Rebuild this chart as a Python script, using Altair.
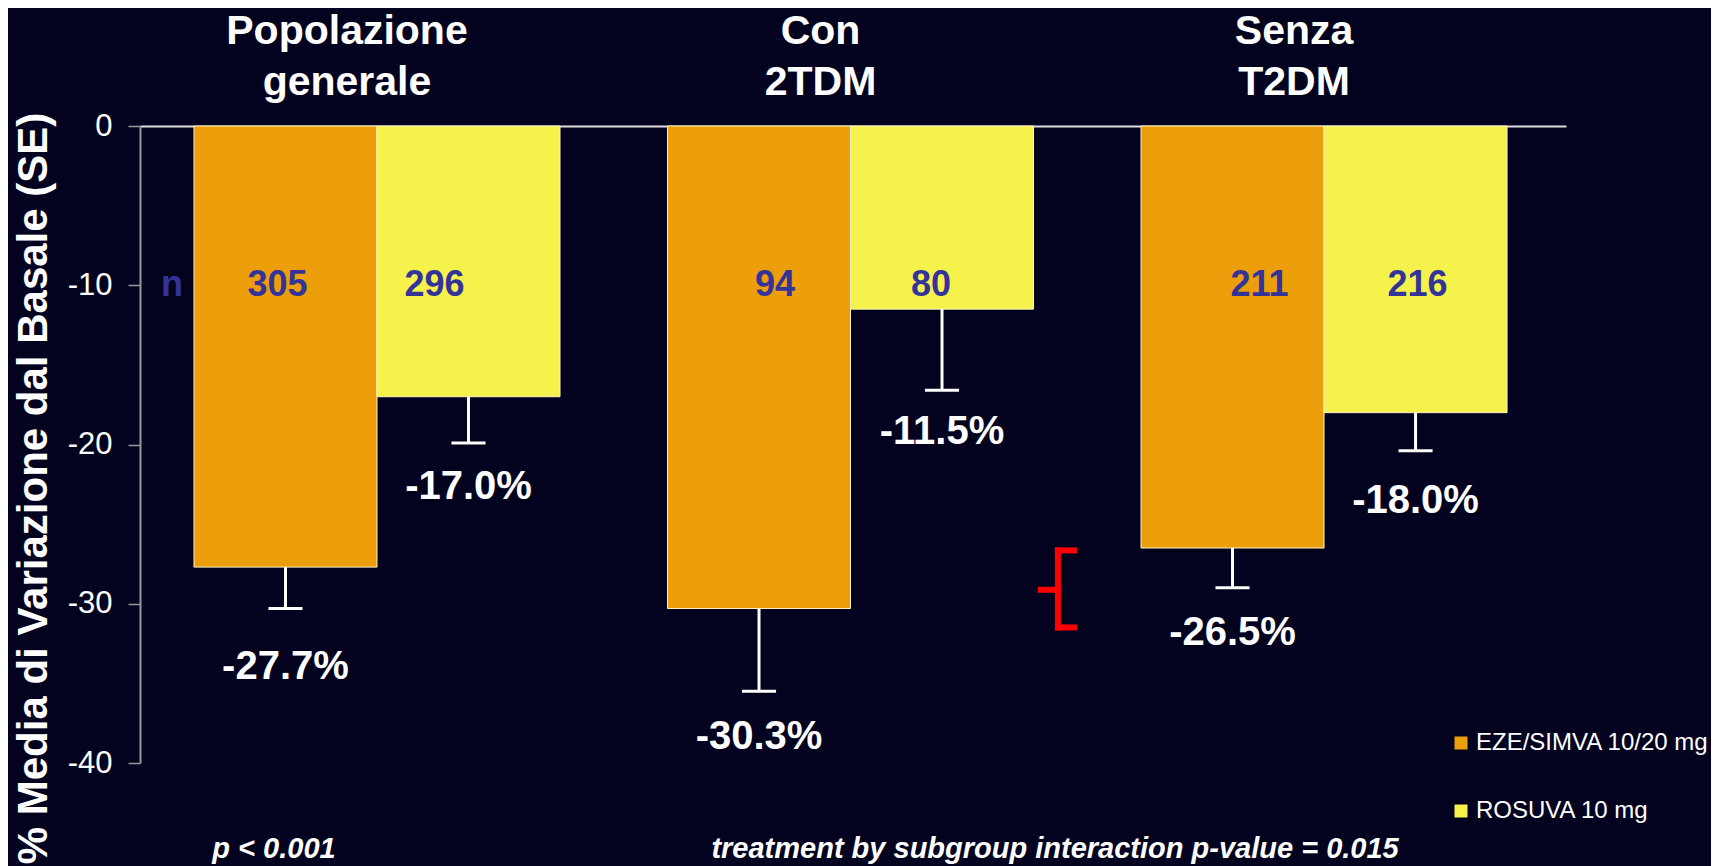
import altair as alt
import pandas as pd

# ---------------- data ----------------
groups = ["Popolazione generale", "Con 2TDM", "Senza T2DM"]
title_line1 = ["Popolazione", "Con", "Senza"]
title_line2 = ["generale", "2TDM", "T2DM"]
series = ["EZE/SIMVA 10/20 mg", "ROSUVA 10 mg"]
eze_values = [-27.7, -30.3, -26.5]
rosuva_values = [-17.0, -11.5, -18.0]
eze_se_end = [-30.3, -35.5, -29.0]
rosuva_se_end = [-19.9, -16.6, -20.4]
eze_n = [305, 94, 211]
rosuva_n = [296, 80, 216]
y_ticks = [0, -10, -20, -30, -40]
notes = ["p < 0.001", "treatment by subgroup interaction  p-value = 0.015"]

# ---------------- layout / style ----------------
ORANGE = "#EC9E0B"
YELLOW = "#F5F34B"
BG = "#030320"
NCOL = "#333399"
FONT = "Liberation Sans"
GROUP_PX = 473.5
Y_PX = 15.925
BAR_W = 0.3865
CAP_HALF = 0.036
X_DOMAIN = [-0.5005, 2.511]
note_x = [-0.2175, 1.432]
bracket_x = [1.402, 1.438, 1.472]
bracket_y = [-26.65, -29.12, -31.49]
# nudges (px) of the labels, per group: (eze, rosuva)
eze_n_dx = [-8, 16, 27]
rosuva_n_dx = [-34, -11, 2]
eze_lab_dy = [58, 46, 45]
rosuva_lab_dy = [44, 42, 50]

rows = []
for gi, g in enumerate(groups):
    for si, (vals, ends, ns, ndx, ldy) in enumerate(
        [
            (eze_values, eze_se_end, eze_n, eze_n_dx, eze_lab_dy),
            (rosuva_values, rosuva_se_end, rosuva_n, rosuva_n_dx, rosuva_lab_dy),
        ]
    ):
        x0 = gi - BAR_W if si == 0 else gi
        xc = x0 + BAR_W / 2
        rows.append(
            dict(
                group=g,
                series=series[si],
                value=vals[gi],
                se_end=ends[gi],
                n=ns[gi],
                label=f"{vals[gi]:.1f}%",
                x0=x0,
                x1=x0 + BAR_W,
                xc=xc,
                nx=xc + ndx[gi] / GROUP_PX,
                ly=ends[gi] - ldy[gi] / Y_PX,
                cl=xc - CAP_HALF,
                cr=xc + CAP_HALF,
            )
        )
df = pd.DataFrame(rows)

titles_df = pd.DataFrame(
    dict(gx=list(range(len(groups))), l1=title_line1, l2=title_line2)
)
notes_df = pd.DataFrame(dict(x=note_x, t=notes))
n_df = pd.DataFrame(dict(x=[-0.433], y=[-10], t=["n"]))
bracket_df = pd.DataFrame(
    dict(
        xa=[bracket_x[1], bracket_x[1], bracket_x[1], bracket_x[0]],
        xb=[bracket_x[1], bracket_x[2], bracket_x[2], bracket_x[1]],
        ya=[bracket_y[0], bracket_y[0], bracket_y[2], bracket_y[1]],
        yb=[bracket_y[2], bracket_y[0], bracket_y[2], bracket_y[1]],
    )
)

xscale = alt.Scale(domain=X_DOMAIN, nice=False, zero=False)
yscale = alt.Scale(domain=[-40, 0], nice=False)

base = alt.Chart(df)

bars = base.mark_rect(stroke="#FFF3C0", strokeWidth=1).encode(
    x=alt.X(
        "x0:Q",
        scale=xscale,
        axis=alt.Axis(
            orient="top",
            labels=False,
            ticks=False,
            grid=False,
            title=None,
            domainColor="#dddddd",
            domainWidth=2,
        ),
    ),
    x2="x1:Q",
    y=alt.Y(
        "value:Q",
        scale=yscale,
        axis=alt.Axis(
            values=y_ticks,
            grid=False,
            title="% Media di Variazione dal Basale (SE)",
            titleColor="white",
            titleFont=FONT,
            titleFontSize=42,
            titleFontWeight="bold",
            titleAngle=270,
            titleX=-107,
            titleY=362,
            titleAlign="center",
            titleBaseline="middle",
            labelColor="white",
            labelFont=FONT,
            labelFontSize=31,
            labelPadding=16,
            labelExpr="'' + datum.value",
            tickColor="#999999",
            tickSize=12,
            tickWidth=1.5,
            domainColor="#999999",
            domainWidth=2,
        ),
    ),
    y2=alt.datum(0),
    color=alt.Color(
        "series:N",
        scale=alt.Scale(domain=series, range=[ORANGE, YELLOW]),
        legend=alt.Legend(
            orient="none",
            legendX=1309,
            legendY=605,
            title=None,
            symbolType="square",
            symbolSize=169,
            symbolStrokeWidth=0,
            symbolOpacity=1,
            labelColor="white",
            labelFont=FONT,
            labelFontSize=24,
            labelOffset=3,
            labelLimit=500,
            rowPadding=44,
            padding=0,
        ),
    ),
)

whisk = base.mark_rule(color="white", strokeWidth=3).encode(
    x="xc:Q", y="value:Q", y2="se_end:Q"
)
caps = base.mark_rule(color="white", strokeWidth=3).encode(
    x="cl:Q", x2="cr:Q", y="se_end:Q"
)
pct = base.mark_text(
    color="white", font=FONT, fontSize=40, fontWeight="bold", baseline="middle"
).encode(x="xc:Q", y="ly:Q", text="label:N")
nlab = base.mark_text(
    color=NCOL, font=FONT, fontSize=36, fontWeight="bold", baseline="middle"
).encode(x="nx:Q", y=alt.datum(-10), text="n:Q")
nletter = alt.Chart(n_df).mark_text(
    color=NCOL, font=FONT, fontSize=36, fontWeight="bold", baseline="middle"
).encode(x="x:Q", y="y:Q", text="t:N")

t1 = alt.Chart(titles_df).mark_text(
    color="white", font=FONT, fontSize=41, fontWeight="bold", baseline="middle", dx=-30
).encode(x="gx:Q", y=alt.value(-94), text="l1:N")
t2 = alt.Chart(titles_df).mark_text(
    color="white", font=FONT, fontSize=41, fontWeight="bold", baseline="middle", dx=-30
).encode(x="gx:Q", y=alt.value(-43), text="l2:N")

notes_layer = alt.Chart(notes_df).mark_text(
    color="white", font=FONT, fontSize=29, fontWeight="bold", fontStyle="italic",
    baseline="middle",
).encode(x="x:Q", y=alt.value(723), text="t:N")

bracket = alt.Chart(bracket_df).mark_rule(
    color="#FF0000", strokeWidth=6, strokeCap="square"
).encode(x="xa:Q", x2="xb:Q", y="ya:Q", y2="yb:Q")

chart = (
    alt.layer(bars, whisk, caps, pct, nlab, nletter, t1, t2, notes_layer, bracket)
    .properties(
        width=1426,
        height=637,
        autosize=alt.AutoSizeParams(type="none"),
        padding={"left": 132, "top": 118, "right": 145, "bottom": 108},
        background=BG,
    )
    .configure_view(stroke=None)
)

chart.save("out.html", embed_options={"renderer": "svg", "actions": False})
